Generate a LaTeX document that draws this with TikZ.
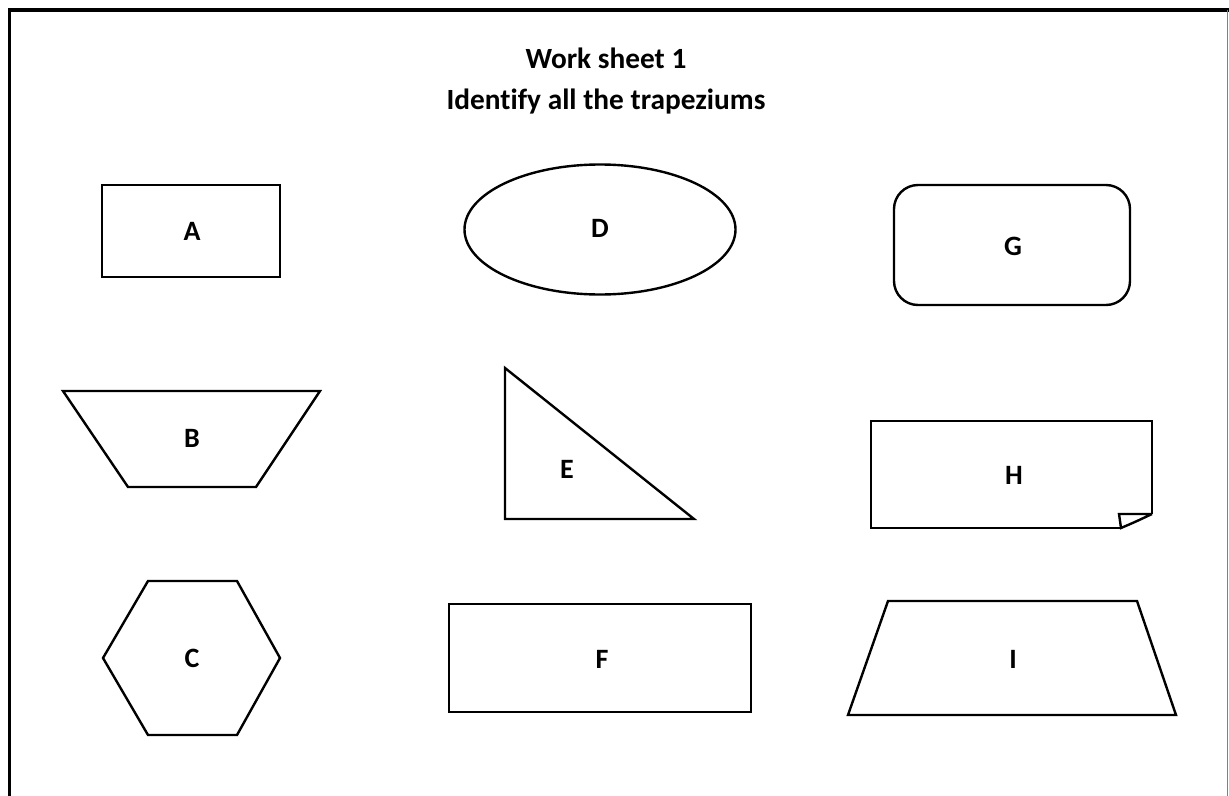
\documentclass[tikz,border=0pt]{standalone}
\usepackage{fontspec}
\setmainfont[Ligatures=NoCommon]{Carlito}
\usetikzlibrary{shapes.geometric}
\begin{document}
\begin{tikzpicture}[x=0.75pt,y=-0.75pt,
  outl/.style={draw=black,line width=1.8pt,line join=miter},
  lbl/.style={font=\bfseries\fontsize{21}{24}\selectfont},
  ttl/.style={font=\bfseries\fontsize{22}{31}\selectfont,align=center}]
\useasboundingbox (0,0) rectangle (1229,796);
% frame
\draw[line width=2.4pt] (9.5,796) -- (9.5,10) -- (1229,10);
\draw[line width=0.8pt,gray] (1227.5,10) -- (1227.5,796);
% title
\node[ttl] (title) at (606,81) {Work sheet 1\\Identify all the trapeziums};
% A
\draw[outl] (102,185) rectangle (280,277);
\node[lbl] (A) at (192,231) {A};
% D
\draw[outl] (600,229.5) ellipse [x radius=135.5, y radius=65];
\node[lbl] (D) at (600,228) {D};
% G
\draw[outl,rounded corners=18] (894,185) rectangle (1130,305);
\node[lbl] (G) at (1013,246) {G};
% B
\draw[outl] (63,391) -- (320,391) -- (256,487) -- (128,487) -- cycle;
\node[lbl] (B) at (192,438) {B};
% E
\draw[outl] (505,368) -- (694,519) -- (505,519) -- cycle;
\node[lbl] (E) at (567,469) {E};
% H
\draw[outl] (1121,528) -- (871,528) -- (871,421) -- (1152,421) -- (1152,514);
\draw[outl] (1152,514) -- (1119,514) -- (1121,528) .. controls (1135,522) .. (1152,514);
\node[lbl] (H) at (1014,475) {H};
% C
\draw[outl] (103,658) -- (148,581) -- (237,581) -- (280,658) -- (237,735) -- (148,735) -- cycle;
\node[lbl] (C) at (192,658) {C};
% F
\draw[outl] (449,604) rectangle (751,712);
\node[lbl] (F) at (602,659) {F};
% I
\draw[outl] (888,601) -- (1137,601) -- (1176,715) -- (848,715) -- cycle;
\node[lbl] (I) at (1013,659) {I};
\end{tikzpicture}
\end{document}
